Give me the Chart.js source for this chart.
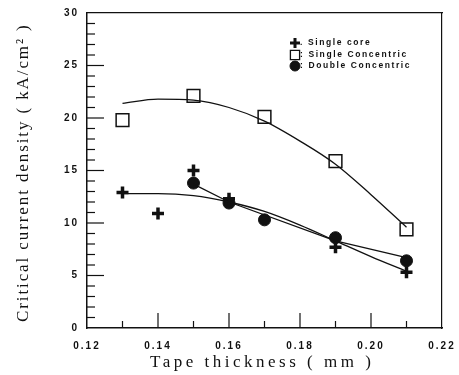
<!DOCTYPE html>
<html>
<head>
<meta charset="utf-8">
<script src="https://cdn.jsdelivr.net/npm/chart.js@4/dist/chart.umd.min.js"></script>
<style>
  html, body { margin: 0; padding: 0; background: #fff; }
  #wrap { width: 459px; height: 375px; position: relative; }
</style>
</head>
<body>
<div id="wrap"><canvas id="c"></canvas></div>
<script>
// Measured points
const singleCoreX = [0.13, 0.14, 0.15, 0.16, 0.19, 0.21];
const singleCoreY = [12.9, 10.9, 15.0, 12.3, 7.7, 5.3];

const singleConcX = [0.13, 0.15, 0.17, 0.19, 0.21];
const singleConcY = [19.8, 22.1, 20.1, 15.9, 9.4];

const doubleConcX = [0.15, 0.16, 0.17, 0.19, 0.21];
const doubleConcY = [13.8, 11.9, 10.3, 8.6, 6.4];

// Fitted curves
const fitX = [0.13, 0.14, 0.15, 0.16, 0.17, 0.18, 0.19, 0.20, 0.21];
const singleConcFit = [21.4, 21.8, 21.7, 21.0, 19.7, 17.8, 15.6, 12.7, 9.6];
const singleCoreFit = [12.8, 12.8, 12.6, 12.0, 11.1, 9.8, 8.3, 6.8, 5.4];
const doubleFitX = [0.15, 0.16, 0.19, 0.21];
const doubleFitY = [13.7, 12.0, 8.3, 6.7];

const xTicks = [0.12, 0.14, 0.16, 0.18, 0.20, 0.22];
const legendLabels = ['. Single core', ': Single Concentric', ': Double Concentric'];

const ink = '#111';

function pts(xs, ys) {
    return xs.map((x, i) => ({ x: x, y: ys[i] }));
}

// keep the plot box where it is in the reference, whatever the label widths
function noEdgePadding(s) {
    s.paddingLeft = 0;
    s.paddingRight = 0;
    s.paddingTop = 0;
    s.paddingBottom = 0;
}

const axisText = {
    id: 'axisText',
    beforeDraw(chart) {
        chart.ctx.letterSpacing = '2px';
    },
    afterDraw(chart) {
        const ctx = chart.ctx;
        const xs = chart.scales.x;
        const ys = chart.scales.y;
        const area = chart.chartArea;
        ctx.save();
        ctx.strokeStyle = ink;
        ctx.lineWidth = 1.2;

        // inside ticks on the left axis
        for (let v = 1; v < 30; v++) {
            const y = ys.getPixelForValue(v);
            const len = v % 5 === 0 ? 17 : 8;
            ctx.beginPath();
            ctx.moveTo(area.left, y);
            ctx.lineTo(area.left + len, y);
            ctx.stroke();
        }
        // inside ticks on the bottom axis
        for (let k = 13; k <= 21; k++) {
            const x = xs.getPixelForValue(k / 100);
            const len = k % 2 === 0 ? 15 : 7;
            ctx.beginPath();
            ctx.moveTo(x, area.bottom);
            ctx.lineTo(x, area.bottom - len);
            ctx.stroke();
        }

        // axis titles
        ctx.fillStyle = ink;
        ctx.font = '17px "Liberation Serif", "DejaVu Serif", serif';
        ctx.letterSpacing = '3.5px';
        ctx.textAlign = 'left';
        ctx.textBaseline = 'alphabetic';
        ctx.fillText('Tape thickness ( mm )', 150, 367);

        ctx.save();
        ctx.translate(28, 322);
        ctx.rotate(-Math.PI / 2);
        ctx.letterSpacing = '1.9px';
        ctx.fillText('Critical current density ( kA/cm\u00B2 )', 0, 0);
        ctx.restore();

        // legend
        const styles = [
            { pointStyle: 'cross', radius: 5, borderWidth: 3 },
            { pointStyle: 'rect', radius: 6.5, borderWidth: 1.3 },
            { pointStyle: 'circle', radius: 5, borderWidth: 1 }
        ];
        const rows = [43, 55, 66];
        ctx.font = 'bold 8.5px "Liberation Sans", Arial, sans-serif';
        ctx.letterSpacing = '1.6px';
        ctx.textAlign = 'left';
        ctx.textBaseline = 'middle';
        legendLabels.forEach((label, i) => {
            ctx.fillStyle = i === 1 ? '#fff' : ink;
            ctx.strokeStyle = ink;
            ctx.lineWidth = styles[i].borderWidth;
            Chart.helpers.drawPoint(ctx, styles[i], 295, rows[i]);
            ctx.fillStyle = ink;
            ctx.fillText(label, 300, rows[i]);
        });
        ctx.restore();
        ctx.letterSpacing = '0px';
    }
};

new Chart(document.getElementById('c'), {
    type: 'scatter',
    data: {
        datasets: [
            {
                label: 'Single Concentric fit',
                data: pts(fitX, singleConcFit),
                showLine: true,
                borderColor: ink,
                borderWidth: 1.3,
                pointRadius: 0,
                cubicInterpolationMode: 'monotone'
            },
            {
                label: 'Single core fit',
                data: pts(fitX, singleCoreFit),
                showLine: true,
                borderColor: ink,
                borderWidth: 1.3,
                pointRadius: 0,
                cubicInterpolationMode: 'monotone'
            },
            {
                label: 'Double Concentric fit',
                data: pts(doubleFitX, doubleFitY),
                showLine: true,
                borderColor: ink,
                borderWidth: 1.3,
                pointRadius: 0,
                tension: 0
            },
            {
                label: 'Single core',
                data: pts(singleCoreX, singleCoreY),
                pointStyle: 'cross',
                pointRadius: 6,
                pointBorderWidth: 3.5,
                borderColor: ink,
                backgroundColor: ink
            },
            {
                label: 'Single Concentric',
                data: pts(singleConcX, singleConcY),
                pointStyle: 'rect',
                pointRadius: 9,
                pointBorderWidth: 1.5,
                borderColor: ink,
                backgroundColor: '#fff'
            },
            {
                label: 'Double Concentric',
                data: pts(doubleConcX, doubleConcY),
                pointStyle: 'circle',
                pointRadius: 6,
                pointBorderWidth: 1,
                borderColor: ink,
                backgroundColor: ink
            }
        ]
    },
    options: {
        responsive: true,
        maintainAspectRatio: false,
        animation: false,
        layout: { padding: { left: 0, top: 13, right: 17, bottom: 0 } },
        plugins: {
            legend: { display: false },
            tooltip: { enabled: false }
        },
        scales: {
            x: {
                type: 'linear',
                min: 0.12,
                max: 0.22,
                afterFit: s => { s.height = 47; noEdgePadding(s); },
                afterBuildTicks: s => { s.ticks = xTicks.map(v => ({ value: v })); },
                grid: { display: false, drawTicks: false },
                border: { display: true, color: ink, width: 1.5 },
                ticks: {
                    color: ink,
                    padding: 12,
                    font: { family: '"Liberation Sans", Arial, sans-serif', size: 10, weight: 'bold' },
                    callback: v => v.toFixed(2)
                }
            },
            y: {
                min: 0,
                max: 30,
                afterFit: s => { s.width = 87; noEdgePadding(s); },
                grid: { display: false, drawTicks: false },
                border: { display: true, color: ink, width: 1.5 },
                ticks: {
                    stepSize: 5,
                    color: ink,
                    padding: 8,
                    font: { family: '"Liberation Sans", Arial, sans-serif', size: 10, weight: 'bold' }
                }
            },
            x2: {
                type: 'linear',
                position: 'top',
                min: 0.12,
                max: 0.22,
                afterFit: s => { s.height = 0; noEdgePadding(s); },
                grid: { display: false, drawTicks: false },
                border: { display: true, color: ink, width: 1.2 },
                ticks: { display: false }
            },
            y2: {
                position: 'right',
                min: 0,
                max: 30,
                afterFit: s => { s.width = 0; noEdgePadding(s); },
                grid: { display: false, drawTicks: false },
                border: { display: true, color: ink, width: 1.2 },
                ticks: { display: false }
            }
        }
    },
    plugins: [axisText]
});
</script>
</body>
</html>
